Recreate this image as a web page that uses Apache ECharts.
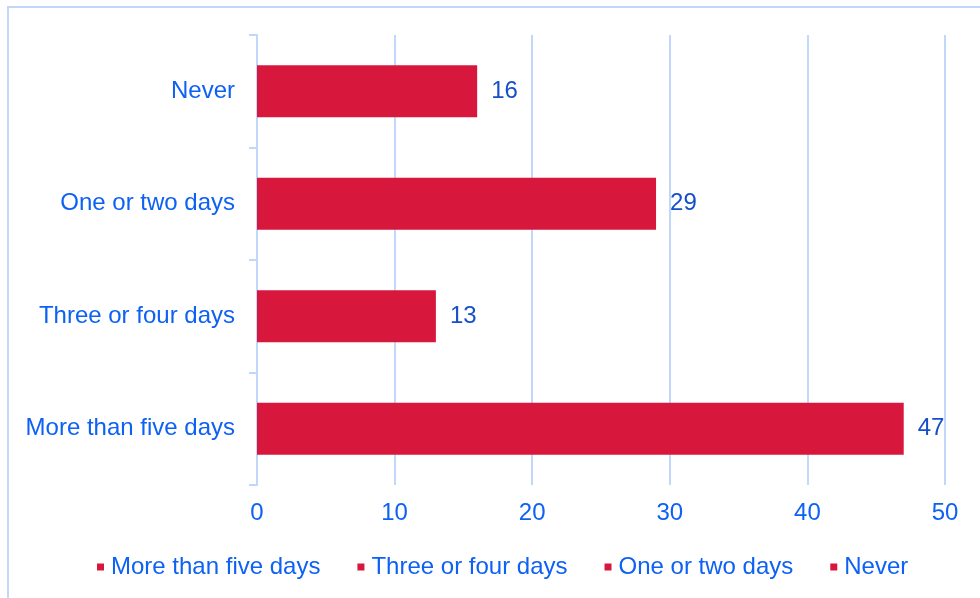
<!DOCTYPE html>
<html>
<head>
<meta charset="utf-8">
<script src="https://cdn.jsdelivr.net/npm/echarts@6/dist/echarts.min.js"></script>
<style>
  html, body { margin: 0; padding: 0; background: #fff; }
  #chart { width: 980px; height: 598px; }
</style>
</head>
<body>
<div id="chart"></div>
<script>
// categories listed bottom to top
const categories = ['More than five days', 'Three or four days', 'One or two days', 'Never']
const values = [47, 13, 29, 16]
const legendNames = ['More than five days', 'Three or four days', 'One or two days', 'Never']

const font = 'Liberation Sans, Arial, sans-serif'
const labelBlue = '#0d61f4'
const valueBlue = '#1650c8'
const lineBlue = '#c2d8fa'
const barRed = '#d8173c'

const myChart = echarts.init(document.getElementById('chart'))

// one series per category so each one gets a legend entry; same colour for all
const series = categories.map((name, i) => ({
  name: name,
  type: 'bar',
  stack: 'all',
  barWidth: 52,
  data: categories.map((c, j) => (j === i ? values[i] : '-')),
  itemStyle: { color: barRed },
  label: {
    show: true,
    position: 'right',
    distance: 14,
    color: valueBlue,
    fontSize: 24,
    fontFamily: font
  }
}))

const options = {
  animation: false,
  textStyle: { fontFamily: font },
  graphic: [
    {
      type: 'rect',
      shape: { x: 8, y: 7, width: 1100, height: 1100 },
      style: { fill: 'none', stroke: lineBlue, lineWidth: 2 },
      silent: true
    }
  ],
  grid: {
    left: 257,
    right: 35,
    top: 35,
    bottom: 113,
    containLabel: false
  },
  legend: {
    data: legendNames,
    left: 92,
    top: 550,
    icon: 'rect',
    itemWidth: 7,
    itemHeight: 7,
    itemGap: 37,
    textStyle: {
      color: labelBlue,
      fontSize: 24,
      fontFamily: font,
      padding: [0, 0, 0, 2]
    }
  },
  xAxis: {
    type: 'value',
    min: 0,
    max: 50,
    interval: 10,
    axisLine: { show: false },
    axisTick: { show: false },
    splitLine: { show: true, lineStyle: { color: lineBlue, width: 2 } },
    axisLabel: {
      color: labelBlue,
      fontSize: 24,
      fontFamily: font,
      margin: 16
    }
  },
  yAxis: {
    type: 'category',
    data: categories,
    axisLine: { show: true, lineStyle: { color: lineBlue, width: 2 } },
    axisTick: { show: true, length: 8, lineStyle: { color: lineBlue, width: 2 } },
    axisLabel: {
      color: labelBlue,
      fontSize: 24,
      fontFamily: font,
      margin: 22
    }
  },
  series: series
}

myChart.setOption(options)
</script>
</body>
</html>
